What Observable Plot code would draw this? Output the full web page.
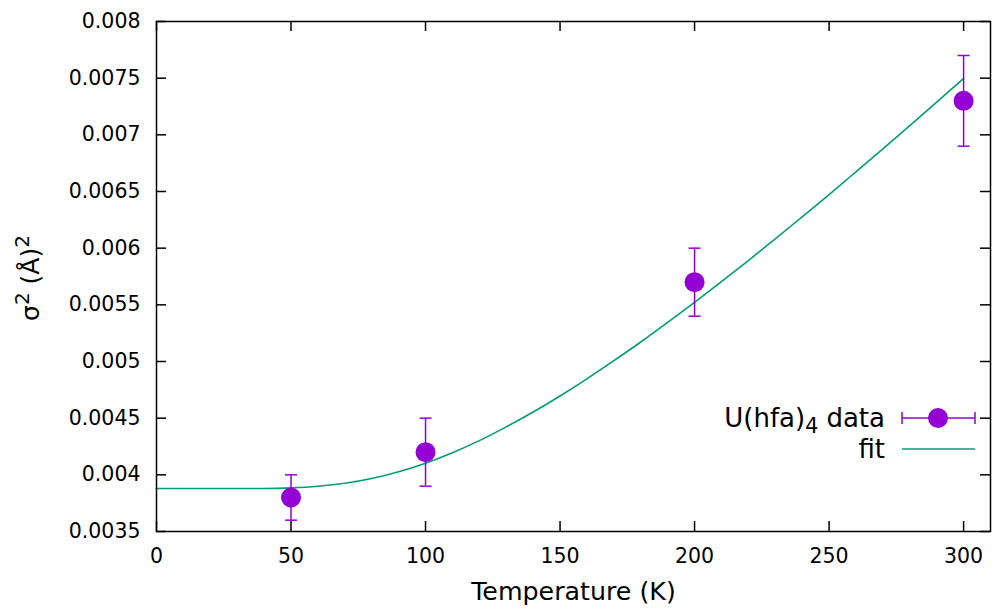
<!DOCTYPE html>
<html>
<head>
<meta charset="utf-8">
<script src="https://cdn.jsdelivr.net/npm/d3@7"></script>
<script src="https://cdn.jsdelivr.net/npm/@observablehq/plot@0.6"></script>
<style>
  html, body { margin: 0; padding: 0; background: #fff; }
  #chart svg { display: block; }
</style>
</head>
<body>
<div id="chart"></div>
<script>
// Measured data (Temperature in K, sigma^2 in Å^2)
const temperature = [50, 100, 200, 300];
const sigma2 = [0.0038, 0.0042, 0.0057, 0.0073];
const errLow = [0.0036, 0.0039, 0.0054, 0.0069];
const errHigh = [0.0040, 0.0045, 0.0060, 0.0077];

// Fit curve
const fitT = [0, 10, 20, 30, 40, 50, 60, 70, 80, 90, 100, 110, 120, 130, 140, 150,
              160, 170, 180, 190, 200, 210, 220, 230, 240, 250, 260, 270, 280, 290, 300];
const fitSigma2 = [0.00388, 0.00388, 0.00388, 0.00388, 0.00388, 0.003885, 0.003899, 0.003925,
                   0.003967, 0.004027, 0.004103, 0.004195, 0.004302, 0.004423, 0.004554, 0.004696,
                   0.004847, 0.005007, 0.005172, 0.005345, 0.005522, 0.005704, 0.005891, 0.006082,
                   0.006277, 0.006473, 0.006674, 0.006876, 0.007081, 0.007288, 0.007497];

// Axis ticks
const xTicks = [0, 50, 100, 150, 200, 250, 300];
const yTicks = [0.0035, 0.004, 0.0045, 0.005, 0.0055, 0.006, 0.0065, 0.007, 0.0075, 0.008];

const seriesLabel = "U(hfa)";
const seriesSub = "4";
const seriesSuffix = " data";
const fitLabel = "fit";
const xTitle = "Temperature (K)";
const yTitleParts = ["σ", "2", " (Å)", "2"];

const purple = "#9400d3";
const green = "#009e73";

const points = temperature.map((t, i) => ({T: t, s: sigma2[i], lo: errLow[i], hi: errHigh[i]}));
const fit = fitT.map((t, i) => ({T: t, s: fitSigma2[i]}));

const capSymbol = {
  draw(context) {
    context.moveTo(-6, 0);
    context.lineTo(6, 0);
  }
};

const plot = Plot.plot({
  width: 993,
  height: 609,
  marginLeft: 156,
  marginRight: 3,
  marginTop: 21,
  marginBottom: 78,
  style: {fontFamily: "DejaVu Sans", fontSize: "20.5px", color: "#000", background: "#fff"},
  x: {domain: [0, 310]},
  y: {domain: [0.0035, 0.008]},
  marks: [
    Plot.axisX(xTicks, {tickSize: 0, tickPadding: 17, tickFormat: d => String(d), label: null, fontSize: 20.5}),
    Plot.axisY(yTicks, {tickSize: 0, tickPadding: 16, tickFormat: d => String(d), label: null, fontSize: 20.5}),
    Plot.tickX(xTicks, {x: d => d, insetTop: 500, stroke: "#000", strokeWidth: 1.5}),
    Plot.tickX(xTicks, {x: d => d, insetBottom: 500, stroke: "#000", strokeWidth: 1.5}),
    Plot.tickY(yTicks, {y: d => d, insetRight: 824, stroke: "#000", strokeWidth: 1.5}),
    Plot.tickY(yTicks, {y: d => d, insetLeft: 824, stroke: "#000", strokeWidth: 1.5}),
    Plot.line(fit, {x: "T", y: "s", stroke: green, strokeWidth: 1.6, curve: "monotone-x"}),
    Plot.ruleX(points, {x: "T", y1: "lo", y2: "hi", stroke: purple, strokeWidth: 1.5}),
    Plot.dot(points, {x: "T", y: "lo", symbol: capSymbol, r: 6, fill: "none", stroke: purple, strokeWidth: 1.5}),
    Plot.dot(points, {x: "T", y: "hi", symbol: capSymbol, r: 6, fill: "none", stroke: purple, strokeWidth: 1.5}),
    Plot.dot(points, {x: "T", y: "s", r: 10, fill: purple, stroke: "none"}),
    Plot.text([xTitle], {frameAnchor: "bottom", lineAnchor: "middle", dy: 60, fontSize: 25.3, fill: "#000"}),
    Plot.frame({stroke: "#000", strokeWidth: 1.5})
  ]
});

document.getElementById("chart").appendChild(plot);

const svg = d3.select(plot);

// Y axis title with superscripts
const yt = svg.append("text")
  .attr("font-family", "DejaVu Sans").attr("font-size", 25).attr("fill", "#000")
  .attr("text-anchor", "middle")
  .attr("transform", "translate(39,278) rotate(-90)");
yt.append("tspan").text(yTitleParts[0]);
yt.append("tspan").attr("font-size", 20).attr("dy", -10).text(yTitleParts[1]);
yt.append("tspan").attr("dy", 10).text(yTitleParts[2]);
yt.append("tspan").attr("font-size", 20).attr("dy", -10).text(yTitleParts[3]);

// Legend (inside plot area, right side)
const lg = svg.append("g").attr("font-family", "DejaVu Sans").attr("font-size", 26).attr("fill", "#000");
const t1 = lg.append("text").attr("x", 885).attr("y", 427).attr("text-anchor", "end");
t1.append("tspan").text(seriesLabel);
t1.append("tspan").attr("font-size", 20.5).attr("dy", 6).text(seriesSub);
t1.append("tspan").attr("dy", -6).text(seriesSuffix);
lg.append("text").attr("x", 885).attr("y", 458).attr("text-anchor", "end").text(fitLabel);
// series sample: horizontal error bar + point
lg.append("line").attr("x1", 902).attr("x2", 975).attr("y1", 418).attr("y2", 418)
  .attr("stroke", purple).attr("stroke-width", 1.5);
lg.append("line").attr("x1", 902).attr("x2", 902).attr("y1", 412).attr("y2", 424)
  .attr("stroke", purple).attr("stroke-width", 1.5);
lg.append("line").attr("x1", 975).attr("x2", 975).attr("y1", 412).attr("y2", 424)
  .attr("stroke", purple).attr("stroke-width", 1.5);
lg.append("circle").attr("cx", 938).attr("cy", 418).attr("r", 10).attr("fill", purple);
lg.append("line").attr("x1", 902).attr("x2", 975).attr("y1", 449).attr("y2", 449)
  .attr("stroke", green).attr("stroke-width", 1.6);
</script>
</body>
</html>
